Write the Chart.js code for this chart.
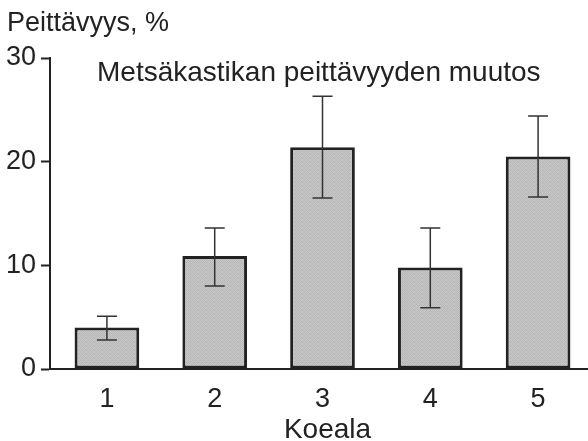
<!DOCTYPE html>
<html>
<head>
<meta charset="utf-8">
<script src="https://cdn.jsdelivr.net/npm/chart.js@4.4.1/dist/chart.umd.min.js"></script>
<style>
  html, body { margin: 0; padding: 0; background: #fff; }
  #wrap { width: 588px; height: 441px; position: relative; }
</style>
</head>
<body>
<div id="wrap"><canvas id="coverChart"></canvas></div>
<script>
// Koealat ja peittävyyden muutos (%)
const plots = ["1", "2", "3", "4", "5"];
const coverChange = [4.0, 10.9, 21.4, 9.8, 20.5];
const errLow = [2.8, 8.0, 16.5, 5.9, 16.6];
const errHigh = [5.1, 13.6, 26.3, 13.6, 24.4];
const yTicks = [0, 10, 20, 30];

const FONT = "'Liberation Sans', Arial, sans-serif";
const INK = "#222";

// fine stipple like the printed original
function stipple() {
  const c = document.createElement("canvas");
  c.width = 4; c.height = 4;
  const g = c.getContext("2d");
  const shades = ["#b4b4b4", "#cacaca", "#bebebe", "#c6c6c6",
                  "#c8c8c8", "#b8b8b8", "#c4c4c4", "#b6b6b6",
                  "#bcbcbc", "#c6c6c6", "#b2b2b2", "#cacaca",
                  "#c4c4c4", "#b8b8b8", "#c8c8c8", "#bababa"];
  shades.forEach((s, i) => { g.fillStyle = s; g.fillRect(i % 4, Math.floor(i / 4), 1, 1); });
  return g.createPattern(c, "repeat");
}

// error bars + free texts
const extrasPlugin = {
  id: "extras",
  afterDatasetsDraw(chart) {
    const ctx = chart.ctx;
    const x = chart.scales.x;
    const y = chart.scales.y;
    ctx.save();
    ctx.strokeStyle = "#333";
    ctx.lineWidth = 1.5;
    plots.forEach((p, i) => {
      const cx = x.getPixelForValue(Number(p));
      const top = y.getPixelForValue(errHigh[i]);
      const bot = y.getPixelForValue(errLow[i]);
      ctx.beginPath();
      ctx.moveTo(cx, top); ctx.lineTo(cx, bot);
      ctx.moveTo(cx - 10, top); ctx.lineTo(cx + 10, top);
      ctx.moveTo(cx - 10, bot); ctx.lineTo(cx + 10, bot);
      ctx.stroke();
    });
    ctx.fillStyle = INK;
    ctx.textBaseline = "middle";
    ctx.textAlign = "left";
    ctx.font = "27px " + FONT;
    ctx.fillText("Peittävyys, %", 7, 24);
    ctx.font = "28px " + FONT;
    ctx.fillText("Metsäkastikan peittävyyden muutos", 97, 73);
    ctx.textAlign = "center";
    ctx.fillText("Koeala", x.getPixelForValue(3) + 5, 430);
    ctx.restore();
  }
};

new Chart(document.getElementById("coverChart"), {
  type: "bar",
  data: {
    datasets: [{
      data: plots.map((p, i) => ({ x: Number(p), y: coverChange[i] })),
      backgroundColor: stipple(),
      borderColor: INK,
      borderWidth: 3,
      borderSkipped: false,
      categoryPercentage: 1.0,
      barPercentage: 0.6
    }]
  },
  options: {
    responsive: true,
    maintainAspectRatio: false,
    animation: false,
    layout: { padding: { top: 58, right: 0, left: 0, bottom: 0 } },
    plugins: {
      legend: { display: false },
      tooltip: { enabled: false },
      title: { display: false }
    },
    scales: {
      x: {
        type: "linear",
        offset: false,
        min: 0.472,
        max: 5.463,
        afterBuildTicks(scale) { scale.ticks = plots.map(p => ({ value: Number(p) })); },
        grid: { display: false },
        border: { display: true, color: INK, width: 2 },
        ticks: {
          color: INK, font: { family: FONT, size: 27 }, padding: 6,
          callback: (v) => plots[plots.indexOf(String(v))]
        },
        afterFit(scale) { scale.height = 72; }
      },
      y: {
        min: 0,
        max: 30,
        afterBuildTicks(scale) { scale.ticks = yTicks.map(v => ({ value: v })); },
        grid: {
          display: true, drawOnChartArea: false, drawTicks: true,
          tickLength: 9, tickWidth: 2, tickColor: INK
        },
        border: { display: true, color: INK, width: 2 },
        ticks: { color: INK, font: { family: FONT, size: 27 }, padding: 5 },
        afterFit(scale) { scale.width = 50; }
      }
    }
  },
  plugins: [extrasPlugin]
});
</script>
</body>
</html>
